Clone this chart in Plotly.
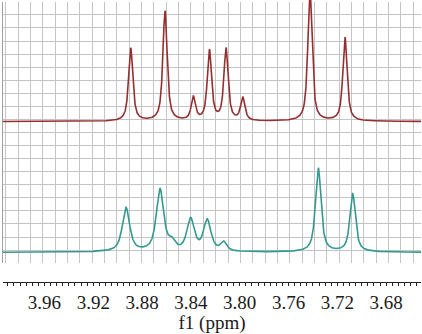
import numpy as np
import plotly.graph_objects as go

# ---- data ----
# chemical-shift window (ppm) shown on the axis
ppm_start = 3.994
ppm_end = 3.6514

# top spectrum (dark red): peak centres (ppm), heights (rel.), half widths (ppm)
red_ppm = [3.8893, 3.8612, 3.8380, 3.8248, 3.8112, 3.7975, 3.7424, 3.7137]
red_height = [73, 110, 23, 70, 72, 23, 130, 84]
red_hw = [0.0021, 0.0021, 0.0021, 0.0021, 0.0021, 0.0021, 0.0021, 0.0021]

# bottom spectrum (teal)
teal_ppm = [3.8932, 3.8653, 3.8557, 3.8402, 3.8266, 3.8131, 3.7356, 3.7074]
teal_height = [44, 62, 8, 32, 31, 9, 84, 58]
teal_hw = [0.0036, 0.0036, 0.0030, 0.0036, 0.0036, 0.0030, 0.0027, 0.0027]

tick_vals = [3.96, 3.92, 3.88, 3.84, 3.80, 3.76, 3.72, 3.68]
tick_text = ["3.96", "3.92", "3.88", "3.84", "3.80", "3.76", "3.72", "3.68"]


def spectrum(x, centres, heights, widths, eta=0.75):
    y = np.zeros_like(x)
    for c, h, w in zip(centres, heights, widths):
        u = (x - c) / w
        y += h * (eta / (1 + u * u) + (1 - eta) * np.exp(-np.log(2) * u * u))
    return y


x = np.linspace(ppm_start, ppm_end, 2000)
red_y = spectrum(x, red_ppm, red_height, red_hw)
teal_y = spectrum(x, teal_ppm, teal_height, teal_hw)

fig = go.Figure()
# empty trace so that the graph-paper grid subplot exists
fig.add_trace(go.Scatter(x=[None], y=[None], xaxis="x", yaxis="y", mode="lines",
                         hoverinfo="skip", showlegend=False))
fig.add_trace(go.Scatter(x=x, y=red_y, xaxis="x2", yaxis="y2", mode="lines",
                         line=dict(color="#952e30", width=1.6), hoverinfo="skip"))
fig.add_trace(go.Scatter(x=x, y=teal_y, xaxis="x2", yaxis="y3", mode="lines",
                         line=dict(color="#34998e", width=1.6), hoverinfo="skip"))

W, H = 422, 334
ml, mr, mt, mb = 3, 1, 0, 52
ph = H - mt - mb
pw = W - ml - mr

def ydom(top_px, bot_px):
    return [(ph - bot_px) / ph, (ph - top_px) / ph]

grid_color = "#c4c4c4"
serif = "Liberation Serif"

fig.update_layout(
    width=W, height=H,
    margin=dict(l=ml, r=mr, t=mt, b=mb, autoexpand=False),
    paper_bgcolor="white", plot_bgcolor="rgba(0,0,0,0)",
    showlegend=False,
    # background graph-paper grid
    xaxis=dict(domain=[0, 1], anchor="y", automargin=False,
               range=[-(5.7 - ml) / 12.35, (W - mr - 5.7) / 12.35],
               tick0=0, dtick=1, showgrid=True, gridcolor=grid_color, gridwidth=1,
               showticklabels=False, ticks="", zeroline=False, showline=False),
    yaxis=dict(domain=ydom(1.7, 263.3), anchor="x", automargin=False,
               range=[-0.01, 20.01], tick0=0, dtick=1,
               showgrid=True, gridcolor=grid_color, gridwidth=1,
               showticklabels=False, ticks="", zeroline=False,
               showline=True, linecolor="#a0a0a0", linewidth=1),
    # ppm axis
    xaxis2=dict(domain=[0, 1], anchor="free", position=0, automargin=False,
                range=[ppm_start, ppm_end],
                tickmode="array", tickvals=tick_vals, ticktext=tick_text,
                ticks="outside", ticklen=3, tickcolor="#222", tickwidth=1,
                minor=dict(dtick=0.005, tick0=3.68, ticks="outside", ticklen=3,
                           tickcolor="#222", tickwidth=1, showgrid=False),
                showline=True, linecolor="#222", linewidth=1,
                showgrid=False, zeroline=False,
                tickfont=dict(family=serif, size=19, color="#1a1a1a"),
                ticklabelstandoff=0,
                title=dict(text="f1 (ppm)", font=dict(family=serif, size=19, color="#1a1a1a"),
                           standoff=4)),
    yaxis2=dict(domain=ydom(0, 130), anchor="free", position=0,
                range=[-8.5, 121.5], visible=False),
    yaxis3=dict(domain=ydom(140, 270), anchor="free", position=0,
                range=[-17.7, 112.3], visible=False),
)

fig.write_html("out.html", config={"displayModeBar": False, "staticPlot": True},
               post_script="document.body.style.margin='0';document.body.style.overflow='hidden';")
